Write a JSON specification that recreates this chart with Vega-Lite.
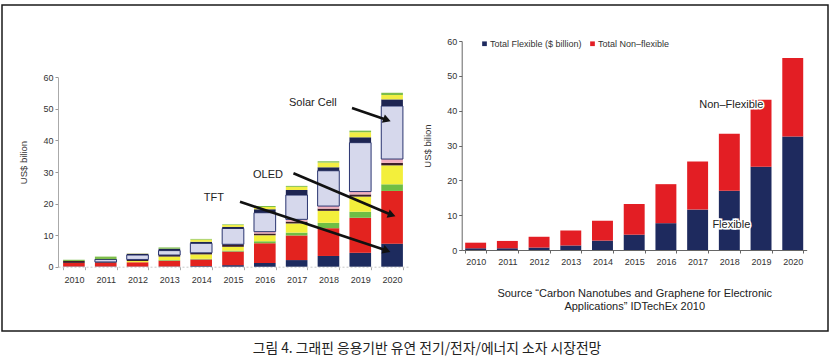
{
  "$schema": "https://vega.github.io/schema/vega-lite/v6.json",
  "width": 826,
  "height": 326,
  "autosize": "none",
  "padding": {"left": 2, "top": 5, "right": 6, "bottom": 33},
  "background": "white",
  "config": {
    "view": {"stroke": "#1a1a1a", "strokeWidth": 1.5},
    "text": {"font": "Liberation Sans"}
  },
  "title": {
    "text": "그림 4. 그래핀 응용기반 유연 전기/전자/에너지 소자 시장전망",
    "orient": "bottom",
    "anchor": "middle",
    "font": "Noto Sans CJK KR",
    "fontSize": 13.8,
    "fontWeight": "normal",
    "color": "#222",
    "offset": 11,
    "dx": 12
  },
  "datasets": {
    "left": [
      {"year": "2010", "s": "TFT", "k": 1, "v": 0.1},
      {"year": "2010", "s": "OLED", "k": 2, "v": 1.1},
      {"year": "2010", "s": "Dark", "k": 5, "v": 0.6},
      {"year": "2010", "s": "Green 2", "k": 10, "v": 0.4},
      {"year": "2011", "s": "TFT", "k": 1, "v": 0.1},
      {"year": "2011", "s": "OLED", "k": 2, "v": 1.2},
      {"year": "2011", "s": "Dark", "k": 5, "v": 0.2},
      {"year": "2011", "s": "Solar Cell", "k": 7, "v": 0.8},
      {"year": "2011", "s": "Navy", "k": 8, "v": 0.1},
      {"year": "2011", "s": "Green 2", "k": 10, "v": 0.8},
      {"year": "2012", "s": "TFT", "k": 1, "v": 0.1},
      {"year": "2012", "s": "OLED", "k": 2, "v": 1.3},
      {"year": "2012", "s": "Yellow", "k": 4, "v": 0.4},
      {"year": "2012", "s": "Dark", "k": 5, "v": 0.5},
      {"year": "2012", "s": "Solar Cell", "k": 7, "v": 1.4},
      {"year": "2012", "s": "Navy", "k": 8, "v": 0.4},
      {"year": "2012", "s": "Yellow 2", "k": 9, "v": 0.1},
      {"year": "2013", "s": "TFT", "k": 1, "v": 0.1},
      {"year": "2013", "s": "OLED", "k": 2, "v": 1.8},
      {"year": "2013", "s": "Green", "k": 3, "v": 0.2},
      {"year": "2013", "s": "Yellow", "k": 4, "v": 1.1},
      {"year": "2013", "s": "Dark", "k": 5, "v": 0.5},
      {"year": "2013", "s": "Solar Cell", "k": 7, "v": 1.4},
      {"year": "2013", "s": "Navy", "k": 8, "v": 0.6},
      {"year": "2013", "s": "Green 2", "k": 10, "v": 0.4},
      {"year": "2014", "s": "TFT", "k": 1, "v": 0.2},
      {"year": "2014", "s": "OLED", "k": 2, "v": 2.1},
      {"year": "2014", "s": "Green", "k": 3, "v": 0.2},
      {"year": "2014", "s": "Yellow", "k": 4, "v": 1.4},
      {"year": "2014", "s": "Dark", "k": 5, "v": 0.5},
      {"year": "2014", "s": "Solar Cell", "k": 7, "v": 3.0},
      {"year": "2014", "s": "Navy", "k": 8, "v": 0.5},
      {"year": "2014", "s": "Yellow 2", "k": 9, "v": 0.7},
      {"year": "2014", "s": "Green 2", "k": 10, "v": 0.2},
      {"year": "2015", "s": "TFT", "k": 1, "v": 0.5},
      {"year": "2015", "s": "OLED", "k": 2, "v": 4.3},
      {"year": "2015", "s": "Green", "k": 3, "v": 0.3},
      {"year": "2015", "s": "Yellow", "k": 4, "v": 1.2},
      {"year": "2015", "s": "Dark", "k": 5, "v": 0.8},
      {"year": "2015", "s": "Solar Cell", "k": 7, "v": 5.0},
      {"year": "2015", "s": "Navy", "k": 8, "v": 0.5},
      {"year": "2015", "s": "Yellow 2", "k": 9, "v": 0.6},
      {"year": "2015", "s": "Green 2", "k": 10, "v": 0.2},
      {"year": "2016", "s": "TFT", "k": 1, "v": 1.2},
      {"year": "2016", "s": "OLED", "k": 2, "v": 6.2},
      {"year": "2016", "s": "Green", "k": 3, "v": 0.7},
      {"year": "2016", "s": "Yellow", "k": 4, "v": 1.9},
      {"year": "2016", "s": "Dark", "k": 5, "v": 0.5},
      {"year": "2016", "s": "Pink", "k": 6, "v": 0.6},
      {"year": "2016", "s": "Solar Cell", "k": 7, "v": 6.0},
      {"year": "2016", "s": "Navy", "k": 8, "v": 1.1},
      {"year": "2016", "s": "Yellow 2", "k": 9, "v": 0.7},
      {"year": "2016", "s": "Green 2", "k": 10, "v": 0.3},
      {"year": "2017", "s": "TFT", "k": 1, "v": 2.1},
      {"year": "2017", "s": "OLED", "k": 2, "v": 7.8},
      {"year": "2017", "s": "Green", "k": 3, "v": 0.9},
      {"year": "2017", "s": "Yellow", "k": 4, "v": 2.9},
      {"year": "2017", "s": "Dark", "k": 5, "v": 0.6},
      {"year": "2017", "s": "Pink", "k": 6, "v": 0.7},
      {"year": "2017", "s": "Solar Cell", "k": 7, "v": 7.7},
      {"year": "2017", "s": "Navy", "k": 8, "v": 1.6},
      {"year": "2017", "s": "Yellow 2", "k": 9, "v": 1.0},
      {"year": "2017", "s": "Green 2", "k": 10, "v": 0.3},
      {"year": "2018", "s": "TFT", "k": 1, "v": 3.4},
      {"year": "2018", "s": "OLED", "k": 2, "v": 8.8},
      {"year": "2018", "s": "Green", "k": 3, "v": 1.7},
      {"year": "2018", "s": "Yellow", "k": 4, "v": 3.8},
      {"year": "2018", "s": "Dark", "k": 5, "v": 0.7},
      {"year": "2018", "s": "Pink", "k": 6, "v": 0.8},
      {"year": "2018", "s": "Solar Cell", "k": 7, "v": 11.2},
      {"year": "2018", "s": "Navy", "k": 8, "v": 1.1},
      {"year": "2018", "s": "Yellow 2", "k": 9, "v": 1.5},
      {"year": "2018", "s": "Green 2", "k": 10, "v": 0.4},
      {"year": "2019", "s": "TFT", "k": 1, "v": 4.4},
      {"year": "2019", "s": "OLED", "k": 2, "v": 11.1},
      {"year": "2019", "s": "Green", "k": 3, "v": 1.9},
      {"year": "2019", "s": "Yellow", "k": 4, "v": 4.8},
      {"year": "2019", "s": "Dark", "k": 5, "v": 0.7},
      {"year": "2019", "s": "Pink", "k": 6, "v": 0.9},
      {"year": "2019", "s": "Solar Cell", "k": 7, "v": 15.5},
      {"year": "2019", "s": "Navy", "k": 8, "v": 1.7},
      {"year": "2019", "s": "Yellow 2", "k": 9, "v": 1.6},
      {"year": "2019", "s": "Green 2", "k": 10, "v": 0.5},
      {"year": "2020", "s": "TFT", "k": 1, "v": 7.3},
      {"year": "2020", "s": "OLED", "k": 2, "v": 16.7},
      {"year": "2020", "s": "Green", "k": 3, "v": 2.1},
      {"year": "2020", "s": "Yellow", "k": 4, "v": 6.0},
      {"year": "2020", "s": "Dark", "k": 5, "v": 0.8},
      {"year": "2020", "s": "Pink", "k": 6, "v": 1.2},
      {"year": "2020", "s": "Solar Cell", "k": 7, "v": 16.8},
      {"year": "2020", "s": "Navy", "k": 8, "v": 2.1},
      {"year": "2020", "s": "Yellow 2", "k": 9, "v": 1.4},
      {"year": "2020", "s": "Green 2", "k": 10, "v": 0.7}
    ],
    "right": [
      {"year": "2010", "s": "Total Flexible ($ billion)", "v": 0.5},
      {"year": "2010", "s": "Total Non–flexible", "v": 1.6},
      {"year": "2011", "s": "Total Flexible ($ billion)", "v": 0.5},
      {"year": "2011", "s": "Total Non–flexible", "v": 2.1},
      {"year": "2012", "s": "Total Flexible ($ billion)", "v": 0.7},
      {"year": "2012", "s": "Total Non–flexible", "v": 3.1},
      {"year": "2013", "s": "Total Flexible ($ billion)", "v": 1.3},
      {"year": "2013", "s": "Total Non–flexible", "v": 4.3},
      {"year": "2014", "s": "Total Flexible ($ billion)", "v": 2.7},
      {"year": "2014", "s": "Total Non–flexible", "v": 5.7},
      {"year": "2015", "s": "Total Flexible ($ billion)", "v": 4.4},
      {"year": "2015", "s": "Total Non–flexible", "v": 8.8},
      {"year": "2016", "s": "Total Flexible ($ billion)", "v": 7.7},
      {"year": "2016", "s": "Total Non–flexible", "v": 11.2},
      {"year": "2017", "s": "Total Flexible ($ billion)", "v": 11.6},
      {"year": "2017", "s": "Total Non–flexible", "v": 13.8},
      {"year": "2018", "s": "Total Flexible ($ billion)", "v": 17.0},
      {"year": "2018", "s": "Total Non–flexible", "v": 16.4},
      {"year": "2019", "s": "Total Flexible ($ billion)", "v": 23.9},
      {"year": "2019", "s": "Total Non–flexible", "v": 19.2},
      {"year": "2020", "s": "Total Flexible ($ billion)", "v": 32.6},
      {"year": "2020", "s": "Total Non–flexible", "v": 22.5}
    ],
    "notesLeft": [
      {"label": "Solar Cell", "tx": 2017.51, "ty": 51.8, "ax": 2018.74, "ay": 50.3, "bx": 2019.84, "by": 46.5},
      {"label": "OLED", "tx": 2016.10, "ty": 29.0, "ax": 2016.90, "ay": 29.6, "bx": 2019.99, "by": 16.4},
      {"label": "TFT", "tx": 2014.40, "ty": 21.8, "ax": 2015.22, "ay": 20.6, "bx": 2019.83, "by": 5.1}
    ],
    "notesRight": [
      {"label": "Non–Flexible", "year": "2018", "v": 41.6},
      {"label": "Flexible", "year": "2018", "v": 7.1}
    ]
  },
  "layer": [
    {
      "data": {"name": "left"},
      "mark": {"type": "bar"},
      "encoding": {
        "x": {
          "field": "year", "type": "ordinal",
          "scale": {"domain": ["2010","2011","2012","2013","2014","2015","2016","2017","2018","2019","2020"], "range": [56, 406], "paddingInner": 0.32, "paddingOuter": 0.16},
          "axis": {"orient": "bottom", "offset": -64.3, "title": null, "labelAngle": 0, "labelFont": "Liberation Sans", "labelFontSize": 9, "labelColor": "#333", "labelPadding": 6, "domainColor": "#c8c8c8", "domainDash": [2, 2], "tickColor": "#aaa", "tickSize": 3, "tickBand": "extent"}
        },
        "y": {
          "field": "v", "type": "quantitative", "stack": "zero",
          "scale": {"domain": [0, 60], "range": [261.7, 72.3], "nice": false},
          "axis": {"orient": "left", "offset": -56, "values": [0,10,20,30,40,50,60], "grid": false, "title": "US$ bilion", "titleFont": "Liberation Sans", "titleFontSize": 9.5, "titleFontWeight": "normal", "titleColor": "#333", "titlePadding": 14, "titleY": 157, "labelFont": "Liberation Sans", "labelFontSize": 9, "labelColor": "#333", "domainColor": "#aaa", "tickColor": "#999", "tickSize": 3}
        },
        "color": {
          "field": "s", "type": "nominal", "legend": null,
          "scale": {
            "domain": ["TFT","OLED","Green","Yellow","Dark","Pink","Solar Cell","Navy","Yellow 2","Green 2"],
            "range": ["#1d2b5e","#e3231f","#6fbe45","#f3ef3b","#3b1f28","#f3afbd","#d6d8ec","#1e2552","#f2ee44","#7dbd4a"]
          }
        },
        "stroke": {"condition": {"test": "datum.s === 'Solar Cell'", "value": "#2a3570"}, "value": null},
        "order": {"field": "k", "type": "quantitative", "sort": "ascending"}
      }
    },
    {
      "data": {"name": "notesLeft"},
      "layer": [
        {
          "mark": {"type": "rule", "color": "#111", "strokeWidth": 2.6},
          "encoding": {
            "x": {"field": "ax", "type": "quantitative", "scale": {"domain": [2009.5, 2020.5], "range": [56, 406], "nice": false, "zero": false}, "axis": null},
            "y": {"field": "ay", "type": "quantitative", "scale": {"domain": [0, 60], "range": [261.7, 72.3], "nice": false}, "axis": null},
            "x2": {"field": "bx"},
            "y2": {"field": "by"}
          }
        },
        {
          "mark": {"type": "point", "shape": "triangle-right", "filled": true, "color": "#111", "size": 80, "angle": 20, "opacity": 1},
          "encoding": {
            "x": {"field": "bx", "type": "quantitative"},
            "y": {"field": "by", "type": "quantitative"}
          }
        },
        {
          "mark": {"type": "text", "fontSize": 11, "color": "#222", "baseline": "middle", "align": "center"},
          "encoding": {
            "x": {"field": "tx", "type": "quantitative"},
            "y": {"field": "ty", "type": "quantitative"},
            "text": {"field": "label"}
          }
        }
      ]
    },
    {
      "layer": [
        {
          "data": {"name": "right"},
          "mark": {"type": "bar"},
          "encoding": {
            "x": {
              "field": "year", "type": "ordinal",
              "scale": {"domain": ["2010","2011","2012","2013","2014","2015","2016","2017","2018","2019","2020"], "range": [459.7, 804.7], "paddingInner": 0.34, "paddingOuter": 0.11},
              "axis": {"orient": "bottom", "offset": -81, "labelAngle": 0, "labelFont": "Liberation Sans", "labelFontSize": 9, "labelColor": "#333", "labelPadding": 4, "domainColor": "#666", "tickColor": "#666", "tickSize": 3, "tickBand": "extent",
                "title": ["Source “Carbon Nanotubes and Graphene for Electronic", "Applications” IDTechEx 2010"],
                "titleFont": "Liberation Sans", "titleFontSize": 11, "titleFontWeight": "normal", "titleColor": "#222", "titlePadding": 21, "titleLineHeight": 13}
            },
            "y": {
              "field": "v", "type": "quantitative", "stack": "zero",
              "scale": {"domain": [0, 60], "range": [245, 36], "nice": false},
              "axis": {"orient": "left", "offset": -459.7, "values": [0,10,20,30,40,50,60], "grid": false, "title": "US$ bilion", "titleFont": "Liberation Sans", "titleFontSize": 9.5, "titleFontWeight": "normal", "titleColor": "#333", "titlePadding": 14, "labelFont": "Liberation Sans", "labelFontSize": 9, "labelColor": "#333", "domainColor": "#666", "tickColor": "#666", "tickSize": 3}
            },
            "color": {
              "field": "s", "type": "nominal",
              "scale": {"domain": ["Total Flexible ($ billion)", "Total Non–flexible"], "range": ["#1e2a5e", "#e31e24"]},
              "legend": {"orient": "none", "legendX": 478, "legendY": 34, "direction": "horizontal", "title": null, "symbolType": "square", "symbolSize": 22, "symbolStrokeWidth": 0, "labelFont": "Liberation Sans", "labelFontSize": 9, "labelColor": "#333", "labelOffset": 1, "columnPadding": 6}
            },
            "order": {"field": "s", "type": "nominal", "sort": "ascending"}
          }
        },
        {
          "data": {"name": "notesRight"},
          "mark": {"type": "text", "fontSize": 11, "color": "white", "stroke": "white", "strokeWidth": 3, "baseline": "middle", "align": "center", "dx": 2},
          "encoding": {
            "x": {"field": "year", "type": "ordinal"},
            "y": {"field": "v", "type": "quantitative", "stack": null},
            "text": {"field": "label"}
          }
        },
        {
          "data": {"name": "notesRight"},
          "mark": {"type": "text", "fontSize": 11, "color": "#222", "baseline": "middle", "align": "center", "dx": 2},
          "encoding": {
            "x": {"field": "year", "type": "ordinal"},
            "y": {"field": "v", "type": "quantitative", "stack": null},
            "text": {"field": "label"}
          }
        }
      ]
    }
  ],
  "resolve": {"scale": {"x": "independent", "y": "independent", "color": "independent"}, "axis": {"x": "independent", "y": "independent"}}
}
